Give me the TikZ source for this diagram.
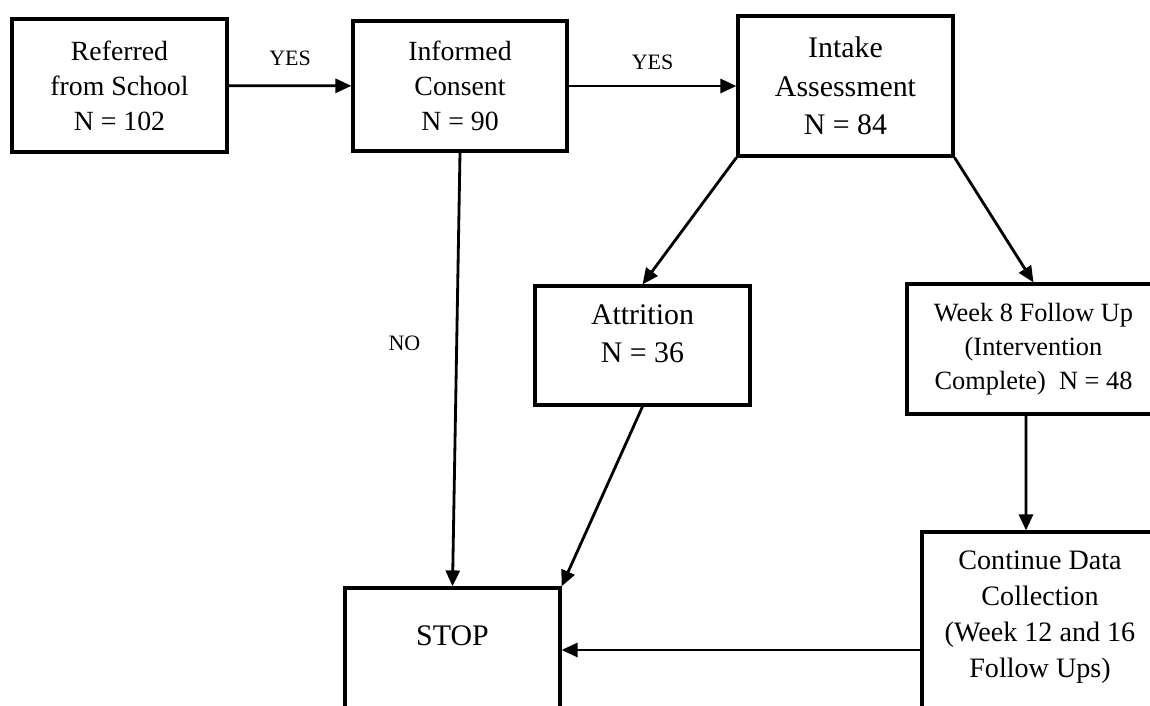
\documentclass[tikz,border=0pt]{standalone}
\usepackage{fontspec}
\setmainfont{Liberation Serif}
\usetikzlibrary{arrows.meta}
\tikzstyle{block} = [rectangle, draw, line width=1.8pt, align=center,
    inner sep=0pt, font=\fontsize{15.8}{19.9}\selectfont]
\tikzstyle{line} = [draw, line width=1.6pt, -{Triangle[length=0.32cm,width=0.28cm]}]
\tikzstyle{tag} = [inner sep=0pt, font=\fontsize{12.5}{15}\selectfont]
\newcommand{\padbelow}[1]{\rule[-#1]{0pt}{0pt}}

\begin{document}
\begin{tikzpicture}
    \useasboundingbox (0,0) rectangle (23,14.1);
    \clip (0,0) rectangle (23,14.1);
    % Place nodes
    \node [block, minimum width=4.3cm, minimum height=2.66cm] (ref) at (2.39,12.39)
        {Referred\\from School\\N = 102};
    \node [block, minimum width=4.28cm, minimum height=2.6cm] (inf) at (9.2,12.38)
        {Informed\\Consent\\N = 90};
    \node [block, minimum width=4.3cm, minimum height=2.8cm,
        font=\fontsize{17}{22}\selectfont] (int) at (16.91,12.38)
        {Intake\\Assessment\\N = 84};
    \node [block, minimum width=4.3cm, minimum height=2.38cm,
        font=\fontsize{17}{21.6}\selectfont] (attr) at (12.85,7.19)
        {Attrition\\N = 36\padbelow{0.46cm}};
    \node [block, minimum width=5.06cm, minimum height=2.6cm,
        font=\fontsize{15}{19.3}\selectfont] (wk8) at (20.67,7.12)
        {Week 8 Follow Up\\(Intervention\\Complete)~ N = 48};
    \node [block, minimum width=4.72cm, minimum height=3.76cm,
        font=\fontsize{16}{20.5}\selectfont] (cont) at (20.8,1.58)
        {Continue Data\\Collection\\(Week 12 and 16\\Follow Ups)\padbelow{0.48cm}};
    \node [block, minimum width=4.3cm, minimum height=2.48cm,
        font=\fontsize{17}{21}\selectfont] (stop) at (9.05,1.1)
        {STOP\padbelow{0.56cm}};
    % Draw edges
    \path [line] (ref) -- node [tag, above=0.38cm] {YES} (inf);
    \path [line] (inf) -- node [tag, above=0.3cm] {YES} (int);
    \path [line] (inf.south) -- node [tag, left=0.7cm, pos=0.44] {NO} (stop.north);
    \path [line] (int.south west) -- (attr.north);
    \path [line] (int.south east) -- (wk8.north);
    \path [line] (attr.south) -- (stop.north east);
    \path [line] ([xshift=-0.15cm]wk8.south) -- ([xshift=-0.28cm]cont.north);
    \path [line] (cont.west |- stop.east) -- (stop.east);
\end{tikzpicture}
\end{document}
